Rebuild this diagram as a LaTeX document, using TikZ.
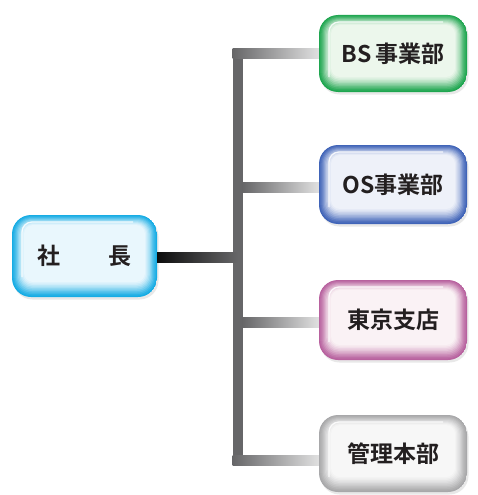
\documentclass[tikz,border=0pt]{standalone}
\usepackage{fontspec}
\newfontfamily\jpfont{Noto Sans CJK JP}[BoldFont={* Bold}]
\usetikzlibrary{shadows}
\definecolor{cyanE}{HTML}{16ACE4}\definecolor{cyanI}{HTML}{F2FAFE}
\definecolor{greenE}{HTML}{1FA650}\definecolor{greenI}{HTML}{F5FAF3}
\definecolor{blueE}{HTML}{4064B8}\definecolor{blueI}{HTML}{F5F7FC}
\definecolor{pinkE}{HTML}{B8629F}\definecolor{pinkI}{HTML}{FDF8F8}
\definecolor{grayE}{HTML}{A8A8AA}\definecolor{grayI}{HTML}{FAFAFA}
\definecolor{trunkC}{HTML}{666668}
\definecolor{txt}{HTML}{231F20}
\tikzset{
  orgbox/.style 2 args={rounded corners=19pt, inner sep=0pt, text=txt,
    font=\jpfont\bfseries\fontsize{23}{25}\selectfont,
    drop shadow={opacity=0.18, shadow xshift=1.5pt, shadow yshift=-2.5pt},
    path picture={
      \foreach \i/\p in {0/100,1/92,2/82,3/70,4/58,5/46,6/35,7/25,8/16,9/9,10/4} {
        \fill[#1!\p!#2, rounded corners={19pt-\i*1pt}]
          ([shift={(\i*1.2pt,-\i*1.0pt)}]path picture bounding box.north west) rectangle
          ([shift={(-\i*1.2pt,\i*1.5pt)}]path picture bounding box.south east);
      }
      \draw[white, line width=1.2pt, opacity=0.85, rounded corners=10pt]
        ([shift={(10pt,-62pt)}]path picture bounding box.north west) --
        ([shift={(10pt,-7pt)}]path picture bounding box.north west) --
        ([shift={(-24pt,-7pt)}]path picture bounding box.north east);
    }},
  branch/.style={left color=trunkC, right color=black!12},
}
\begin{document}
\begin{tikzpicture}[x=1pt,y=-1pt]
\useasboundingbox (0,0) rectangle (477,495);
% trunk
\coordinate (ttop) at (237.5,49);
\coordinate (tbot) at (237.5,465);
\coordinate (tmid) at (237.5,257);
\fill[trunkC] ([xshift=-5pt]ttop) rectangle ([xshift=5pt]tbot);
% boxes
\node[orgbox={cyanE}{cyanI}, minimum width=145pt, minimum height=82pt] (chief) at (84.5,256) {社\hspace{49pt}長};
\node[orgbox={greenE}{greenI}, minimum width=148pt, minimum height=77pt] (bs) at (393,53.5) {BS\,事業部};
\node[orgbox={blueE}{blueI}, minimum width=148pt, minimum height=79pt] (os) at (393,184.5) {OS事業部};
\node[orgbox={pinkE}{pinkI}, minimum width=148pt, minimum height=80pt] (tk) at (393,320) {東京支店};
\node[orgbox={grayE}{grayI}, minimum width=148pt, minimum height=77pt] (kr) at (393,453.5) {管理本部};
% branch points
\coordinate (jb) at (242.5,54);
\coordinate (jo) at (242.5,187);
\coordinate (jt) at (242.5,322);
\coordinate (jk) at (242.5,460);
% connectors
\shade[left color=black!95, right color=trunkC] ([yshift=5pt]chief.east |- tmid) rectangle ([yshift=-5pt]tmid);
\shade[branch] ([xshift=-10pt,yshift=5pt]jb) rectangle ([yshift=-5pt]bs.west |- jb);
\shade[branch] ([yshift=5pt]jo) rectangle ([yshift=-5pt]os.west |- jo);
\shade[branch] ([yshift=5pt]jt) rectangle ([yshift=-5pt]tk.west |- jt);
\shade[branch] ([xshift=-10pt,yshift=5pt]jk) rectangle ([yshift=-5pt]kr.west |- jk);
\end{tikzpicture}
\end{document}
